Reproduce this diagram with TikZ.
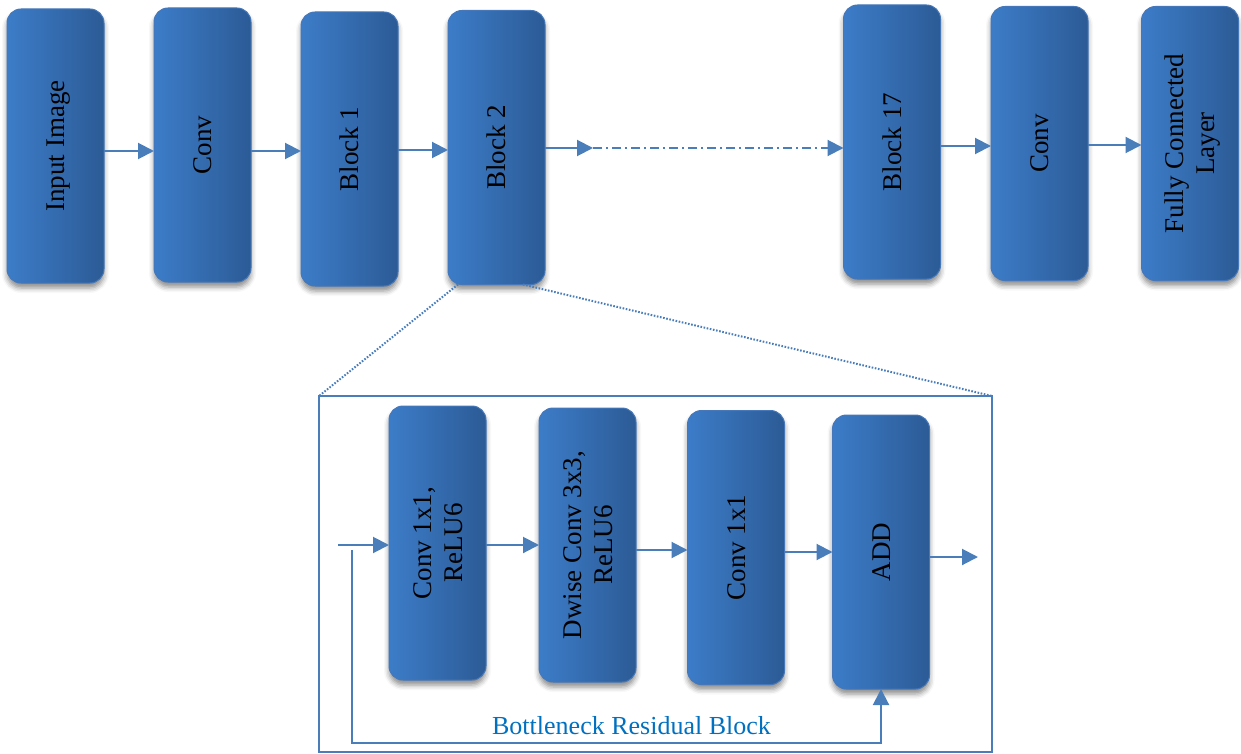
\documentclass[tikz,border=0pt]{standalone}
\usepackage{fontspec}
\usepackage{graphicx}
\setmainfont{Liberation Serif}
\usetikzlibrary{arrows.meta,shadows.blur}
\definecolor{boxl}{RGB}{60,124,200}
\definecolor{boxr}{RGB}{44,91,150}
\definecolor{boxedge}{RGB}{70,120,185}
\definecolor{lineblue}{RGB}{74,126,187}
\definecolor{labelblue}{RGB}{0,112,192}
% vertical (rotated) multi-line caption for a layer box
\newcommand\vlabel[1]{\hspace{6pt}\rotatebox{90}{\begin{tabular}{@{}c@{}}#1\end{tabular}}}

\begin{document}
\begin{tikzpicture}[x=1pt,y=-1pt,
  layer/.style={rounded corners=14pt, left color=boxl, right color=boxr,
    draw=boxedge, line width=1pt, minimum width=97pt, minimum height=274pt,
    inner sep=0pt, outer sep=0pt, font=\fontsize{27}{31}\selectfont,
    blur shadow={shadow xshift=0pt, shadow yshift=-5pt,
      shadow blur radius=5pt, shadow opacity=45}},
  flow/.style={draw=lineblue, line width=2pt, -{Triangle[length=16pt,width=16pt]}},
  dashdot/.style={dash pattern=on 9pt off 4pt on 2pt off 4pt},
  zoomline/.style={draw=lineblue, line width=2pt, dash pattern=on 1.6pt off 1.6pt},
  frame/.style={draw=lineblue, line width=2pt, minimum width=673pt,
    minimum height=356pt, inner sep=0pt, outer sep=0pt}
]
\useasboundingbox (0,0) rectangle (1241,754);

% main network
\node[layer] (inp)   at (55.5,146)   {\vlabel{Input Image}};
\node[layer] (conva) at (202.5,145)  {\vlabel{Conv}};
\node[layer] (b1)    at (349.5,149)  {\vlabel{Block 1}};
\node[layer] (b2)    at (496.5,147.5){\vlabel{Block 2}};
\node[layer] (b17)   at (892,142)    {\vlabel{Block 17}};
\node[layer] (convb) at (1039.5,143.5){\vlabel{Conv}};
\node[layer] (fc)    at (1190,143.5) {\vlabel{Fully Connected\\Layer}};

\coordinate (dd) at (593,148);

\draw[flow] ([yshift=-5pt]inp.east) -- ([yshift=-5pt]inp.east -| conva.west);
\draw[flow] ([yshift=-6pt]conva.east) -- ([yshift=-6pt]conva.east -| b1.west);
\draw[flow] ([yshift=-1pt]b1.east) -- ([yshift=-1pt]b1.east -| b2.west);
\draw[flow] (b2.east |- dd) -- (dd);
\draw[flow, dashdot] (dd) -- (dd -| b17.west);
\draw[flow] ([yshift=-4pt]b17.east) -- ([yshift=-4pt]b17.east -| convb.west);
\draw[flow] ([yshift=-1.5pt]convb.east) -- ([yshift=-1.5pt]convb.east -| fc.west);

% expanded bottleneck block
\node[frame] (blk) at (655.5,574) {};
\draw[zoomline] ([xshift=10pt]b2.south west) -- (blk.north west);
\draw[zoomline] ([xshift=-22pt]b2.south east) -- (blk.north east);

\node[layer] (c1)  at (437.5,543) {\vlabel{Conv 1x1,\\ReLU6}};
\node[layer] (dw)  at (587.5,545) {\vlabel{Dwise Conv 3x3,\\ReLU6}};
\node[layer] (c2)  at (736,547.5) {\vlabel{Conv 1x1}};
\node[layer] (add) at (881,552)   {\vlabel{ADD}};

\coordinate (in)   at (338,545);
\coordinate (out)  at (978,557);
\coordinate (skip) at (352,550);
\coordinate (rbot) at (352,743);

\draw[flow] (in) -- (in -| c1.west);
\draw[flow] (c1.east |- in) -- (in -| dw.west);
\draw[flow] ([yshift=-5pt]dw.east) -- ([yshift=-5pt]dw.east -| c2.west);
\draw[flow] ([yshift=-4.5pt]c2.east) -- ([yshift=-4.5pt]c2.east -| add.west);
\draw[flow] (add.east |- out) -- (out);
\draw[flow] (skip) -- (rbot) -| (add.south);

\node[text=labelblue, font=\fontsize{26}{31}\selectfont, inner sep=0pt]
  (lbl) at (631.5,726) {Bottleneck Residual Block};
\end{tikzpicture}
\end{document}
